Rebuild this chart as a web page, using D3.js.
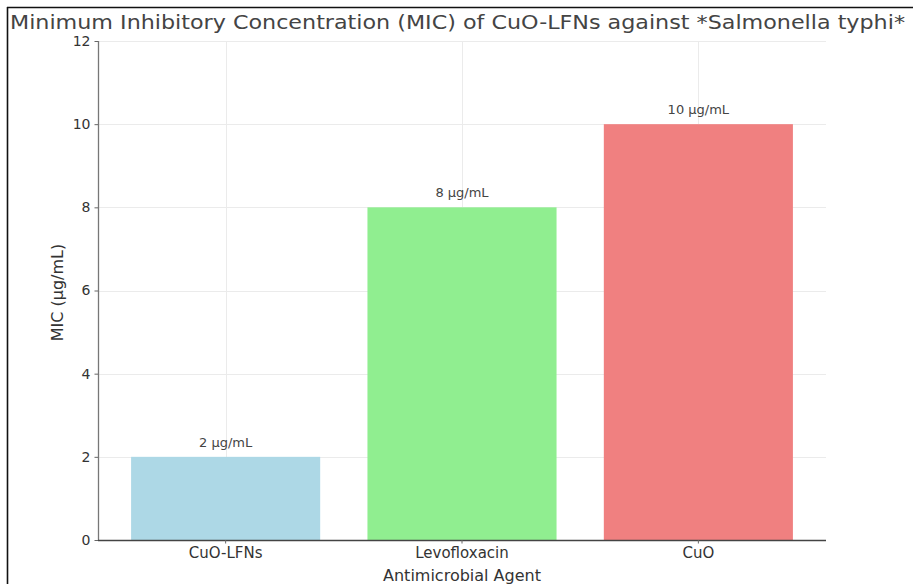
<!DOCTYPE html>
<html>
<head>
<meta charset="utf-8">
<script src="https://cdn.jsdelivr.net/npm/d3@7/dist/d3.min.js"></script>
<style>
  html, body { margin: 0; padding: 0; background: #fff; }
  svg { display: block; font-family: "DejaVu Sans", sans-serif; }
</style>
</head>
<body>
<svg id="chart" width="913" height="584"></svg>
<script>
// MIC values per antimicrobial agent
const agents = ["CuO-LFNs", "Levofloxacin", "CuO"];
const micValues = [2, 8, 10];
const barLabels = ["2 µg/mL", "8 µg/mL", "10 µg/mL"];
const barColors = ["#add8e6", "#90ee90", "#f08080"];
const yTicks = [0, 2, 4, 6, 8, 10, 12];

const titleText = "Minimum Inhibitory Concentration (MIC) of CuO-LFNs against *Salmonella typhi*";
const xTitle = "Antimicrobial Agent";
const yTitle = "MIC (µg/mL)";

const svg = d3.select("#chart");
const plot = { left: 98, right: 826, top: 41, bottom: 540 };

const x = d3.scaleBand()
  .domain(agents)
  .range([plot.left, plot.right])
  .paddingInner(0.2)
  .paddingOuter(0.14);

const y = d3.scaleLinear()
  .domain([0, 12])
  .range([plot.bottom, plot.top]);

// outer frame (top and left edges)
svg.append("line").attr("x1", 7).attr("x2", 913).attr("y1", 7.5).attr("y2", 7.5)
  .attr("stroke", "#111").attr("stroke-width", 1.6);
svg.append("line").attr("x1", 7.5).attr("x2", 7.5).attr("y1", 7).attr("y2", 584)
  .attr("stroke", "#111").attr("stroke-width", 1.6);

// grid
const grid = svg.append("g").attr("stroke", "#ebebeb").attr("stroke-width", 1);
grid.selectAll(".hg").data(yTicks).join("line")
  .attr("x1", plot.left).attr("x2", plot.right)
  .attr("y1", d => Math.round(y(d)) + 0.5).attr("y2", d => Math.round(y(d)) + 0.5);
grid.selectAll(".vg").data(agents).join("line")
  .attr("x1", d => Math.round(x(d) + x.bandwidth() / 2) + 0.5)
  .attr("x2", d => Math.round(x(d) + x.bandwidth() / 2) + 0.5)
  .attr("y1", plot.top).attr("y2", plot.bottom);

// bars
svg.append("g").selectAll("rect").data(agents).join("rect")
  .attr("x", d => x(d))
  .attr("width", x.bandwidth())
  .attr("y", (d, i) => y(micValues[i]))
  .attr("height", (d, i) => y(0) - y(micValues[i]))
  .attr("fill", (d, i) => barColors[i]);

// value labels
svg.append("g").selectAll("text").data(agents).join("text")
  .attr("x", d => x(d) + x.bandwidth() / 2)
  .attr("y", (d, i) => y(micValues[i]) - 10)
  .attr("text-anchor", "middle")
  .attr("font-size", 13)
  .attr("fill", "#444")
  .text((d, i) => barLabels[i]);

// axes
const yAxis = svg.append("g")
  .attr("transform", `translate(${plot.left},0)`)
  .call(d3.axisLeft(y).tickValues(yTicks).tickSize(3.5).tickPadding(4));
const xAxis = svg.append("g")
  .attr("transform", `translate(0,${plot.bottom})`)
  .call(d3.axisBottom(x).tickSize(3.5).tickPadding(4));

yAxis.select(".domain").attr("stroke", "#777").attr("stroke-width", 1.3)
  .attr("d", `M0.5,${plot.bottom}V${plot.top}`);
xAxis.select(".domain").attr("stroke", "#444").attr("stroke-width", 1.3)
  .attr("d", `M${plot.left},0.5H${plot.right}`);
[yAxis, xAxis].forEach(g => {
  g.selectAll(".tick line").attr("stroke", "#666");
  g.selectAll(".tick text").attr("fill", "#333")
    .attr("font-family", "DejaVu Sans, sans-serif");
});
yAxis.selectAll(".tick text").attr("font-size", 14);
xAxis.selectAll(".tick text").attr("font-size", 15);

// axis titles
svg.append("text")
  .attr("x", (plot.left + plot.right) / 2)
  .attr("y", 581)
  .attr("text-anchor", "middle")
  .attr("font-size", 16)
  .attr("fill", "#333")
  .text(xTitle);

svg.append("text")
  .attr("transform", `translate(63,${(plot.top + plot.bottom) / 2 + 2}) rotate(-90)`)
  .attr("text-anchor", "middle")
  .attr("font-size", 16)
  .attr("fill", "#333")
  .text(yTitle);

// chart title
svg.append("text")
  .attr("x", 10)
  .attr("y", 28.5)
  .attr("font-size", 20)
  .attr("fill", "#444")
  .attr("textLength", 895)
  .attr("lengthAdjust", "spacingAndGlyphs")
  .text(titleText);
</script>
</body>
</html>
